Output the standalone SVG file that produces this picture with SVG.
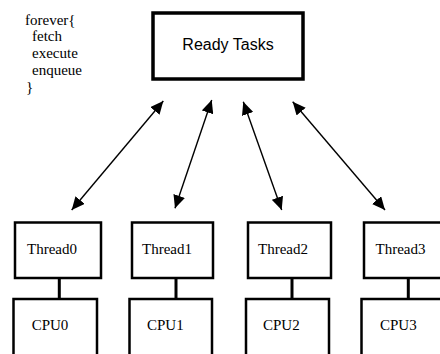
<svg xmlns="http://www.w3.org/2000/svg" width="440" height="354" viewBox="0 0 440 354">
<style>
.box{fill:#fff;stroke:#000;stroke-width:2.5}
.rt{fill:#fff;stroke:#000;stroke-width:3.5}
.serif{font-family:"Liberation Serif","Times New Roman",serif;font-size:15px;fill:#000}
.sans{font-family:"Liberation Sans",Arial,sans-serif;font-size:16px;fill:#000}
.arr{stroke:#000;stroke-width:1.4;fill:none;marker-start:url(#ah);marker-end:url(#ah)}
.link{stroke:#000;stroke-width:3}
</style>
<defs>
<marker id="ah" markerUnits="userSpaceOnUse" markerWidth="14" markerHeight="12" refX="13" refY="6" orient="auto-start-reverse">
<path d="M0,0 L13,6 L0,12 Z" fill="#000"/>
</marker>
</defs>
<rect width="440" height="354" fill="#fff"/>
<g id="code">
<text class="serif" x="25" y="25">forever{</text>
<text class="serif" x="32" y="41">fetch</text>
<text class="serif" x="32" y="58">execute</text>
<text class="serif" x="32" y="75">enqueue</text>
<text class="serif" x="26" y="92">}</text>
</g>
<g id="ready">
<rect class="rt" x="153" y="13" width="150" height="66"/>
<text class="sans" x="228" y="50" text-anchor="middle">Ready Tasks</text>
</g>
<g id="connectors">
<line class="arr" x1="71.7" y1="210" x2="163.3" y2="101"/>
<line class="arr" x1="175" y1="208.3" x2="211.7" y2="100"/>
<line class="arr" x1="281.7" y1="210" x2="243.3" y2="101.7"/>
<line class="arr" x1="385" y1="210" x2="292.7" y2="101.7"/>
<line class="link" x1="59.3" y1="278" x2="59.3" y2="299"/>
<line class="link" x1="176" y1="278" x2="176" y2="299"/>
<line class="link" x1="292" y1="278" x2="292" y2="299"/>
<line class="link" x1="408.3" y1="278" x2="408.3" y2="299"/>
</g>
<g id="thread0">
<rect class="box" x="15" y="222.5" width="86" height="55.5"/>
<text class="serif" x="27" y="254">Thread0</text>
</g>
<g id="thread1">
<rect class="box" x="132" y="222.5" width="81" height="55.5"/>
<text class="serif" x="142" y="254">Thread1</text>
</g>
<g id="thread2">
<rect class="box" x="248" y="222.5" width="83" height="55.5"/>
<text class="serif" x="258" y="254">Thread2</text>
</g>
<g id="thread3">
<rect class="box" x="364" y="222.5" width="86" height="55.5"/>
<text class="serif" x="375.5" y="254">Thread3</text>
</g>
<g id="cpu0">
<rect class="box" x="13.5" y="299" width="83.5" height="70"/>
<text class="serif" x="31.7" y="330">CPU0</text>
</g>
<g id="cpu1">
<rect class="box" x="129.5" y="299" width="82.5" height="70"/>
<text class="serif" x="147" y="330">CPU1</text>
</g>
<g id="cpu2">
<rect class="box" x="246" y="299" width="83" height="70"/>
<text class="serif" x="263" y="330">CPU2</text>
</g>
<g id="cpu3">
<rect class="box" x="361.5" y="299" width="86" height="70"/>
<text class="serif" x="380" y="330">CPU3</text>
</g>
</svg>
